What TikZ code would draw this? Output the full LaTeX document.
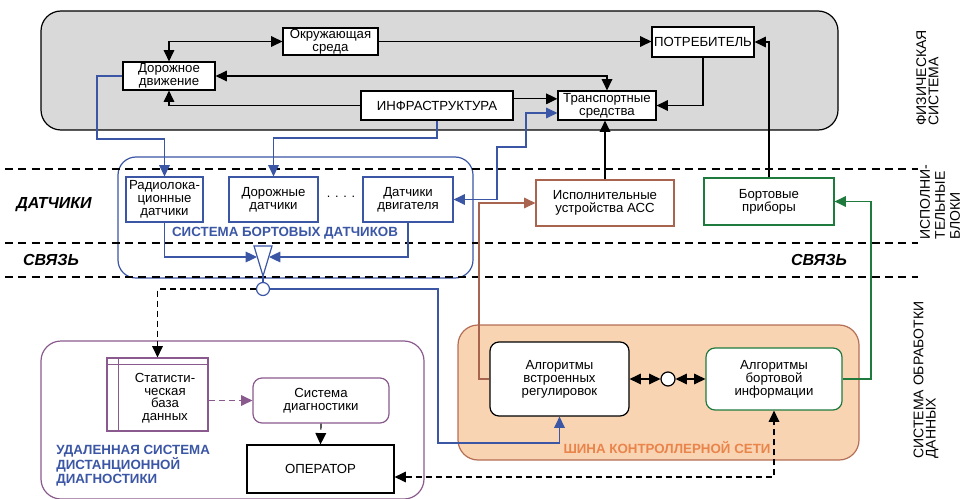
\documentclass[tikz,border=0pt]{standalone}
\usepackage{fontspec}
\setmainfont{Liberation Sans}
\usetikzlibrary{shapes,arrows.meta,calc}
\usetikzlibrary{positioning}

\definecolor{physgray}{HTML}{D9D9D9}
\definecolor{sensblue}{HTML}{3A56A5}
\definecolor{remotepurple}{HTML}{8A5A8E}
\definecolor{accbrown}{HTML}{A8644F}
\definecolor{instgreen}{HTML}{1F7A3D}
\definecolor{canfill}{HTML}{F9D4B3}
\definecolor{canborder}{HTML}{B46E55}
\definecolor{cantext}{HTML}{E9844B}

\newlength{\unitpx}
\setlength{\unitpx}{0.75pt}

\begin{document}
\lineskiplimit=-100pt
\begin{tikzpicture}[x=0.75pt, y=-0.75pt, >={Triangle[length=8.5pt,width=8pt]}]
	\tikzset{wh/.style 2 args={minimum width=#1\unitpx, minimum height=#2\unitpx}};
	\tikzset{block/.style={rectangle, draw, line width=0.9pt, fill=white, align=center, inner sep=0pt, font=\fontsize{9.9}{9.7}\selectfont}};
	\tikzset{algo/.style={block, rounded corners=9\unitpx}};
	\tikzset{area/.style={rectangle, draw, line width=0.9pt, rounded corners=20\unitpx, inner sep=0pt}};
	\tikzset{title/.style={inner sep=0pt, align=left, font=\fontsize{10}{10.9}\selectfont\bfseries}};
	\tikzset{zone/.style={inner sep=0pt, font=\fontsize{12}{13}\selectfont\bfseries\itshape}};
	\tikzset{side/.style={rotate=90, inner sep=0pt, align=left, font=\fontsize{10.5}{9.2}\selectfont}};
	\tikzset{zoneline/.style={dash pattern=on 6pt off 4pt, line width=0.9pt}};
	\tikzset{link/.style={line width=0.9pt}};
	\tikzset{dashlink/.style={link, dash pattern=on 4.5pt off 3pt}};
	\tikzset{hubdot/.style={circle, draw, fill=white, line width=0.9pt, inner sep=0pt}};

	\useasboundingbox (0,0) rectangle (970,499);

	% Place areas
	\node [area, fill=physgray, wh={797}{119}] (phys) at (439.5,70.5) {};
	\node [area, draw=sensblue, rounded corners=18\unitpx, wh={355}{121}] (sensbox) at (295.5,217.5) {};
	\node [area, fill=canfill, draw=canborder, wh={401}{135}] (canbox) at (658.5,392.5) {};
	\node [area, draw=remotepurple, wh={383}{158}] (remote) at (232.5,420) {};

	\foreach \y in {169,243,277}
		\draw [zoneline] (5,\y) -- (918,\y);

	% Place nodes
	\node [block, wh={95}{27}] (env) at (330.5,41.5) {Окружающая\\среда};
	\node [block, wh={92}{28}] (traffic) at (169,76) {Дорожное\\движение};
	\node [block, wh={152}{29}] (infra) at (437,105.5) {ИНФРАСТРУКТУРА};
	\node [block, wh={102}{30}] (consumer) at (703,42) {ПОТРЕБИТЕЛЬ};
	\node [block, wh={98}{29}] (vehicle) at (607,105.5) {Транспортные\\средства};

	\node [block, draw=sensblue, wh={77}{45}] (radar) at (164.5,199.5) {Радиолока-\\ционные\\датчики};
	\node [block, draw=sensblue, wh={89}{45}] (roadsens) at (273.5,199.5) {Дорожные\\датчики};
	\node [block, draw=sensblue, wh={90}{45}] (engine) at (408,199.5) {Датчики\\двигателя};
	\node [font=\fontsize{9.5}{9.6}\selectfont] (dots) at (341,197) {. . . .};
	\node [title, text=sensblue] (senslabel) at (285,233) {СИСТЕМА БОРТОВЫХ ДАТЧИКОВ};

	\node [block, draw=accbrown, wh={138}{46}] (actuator) at (605,203) {Исполнительные\\устройства АСС};
	\node [block, draw=instgreen, wh={130}{47}] (instrument) at (769,201.5) {Бортовые\\приборы};

	\node [algo, wh={139}{74}] (algoreg) at (559.5,379) {Алгоритмы\\встроенных\\регулировок};
	\node [algo, draw=instgreen, wh={136}{62}] (algoinfo) at (774,379) {Алгоритмы\\бортовой\\информации};
	\node [hubdot, minimum size=14\unitpx] (bus) at (668,379) {};
	\node [title, text=cantext] (canlabel) at (667,448) {ШИНА КОНТРОЛЛЕРНОЙ СЕТИ};

	\node [block, draw=remotepurple, wh={101}{73}] (statdb) at (157.5,394.5) {};
	\draw [remotepurple, line width=0.9pt] ([xshift=12\unitpx]statdb.north west) -- ([xshift=12\unitpx]statdb.south west);
	\draw [remotepurple, line width=0.9pt] ([yshift=-7\unitpx]statdb.north west) -- ([yshift=-7\unitpx]statdb.north east);
	\node [inner sep=0pt, align=center, font=\fontsize{9.9}{9.4}\selectfont] (statdbtext) at (165,398) {Статисти-\\ческая\\база\\данных};
	\node [algo, draw=remotepurple, wh={136}{45}] (diag) at (321,400.5) {Система\\диагностики};
	\node [block, wh={147}{48}] (operator) at (320.5,469) {ОПЕРАТОР};
	\node [title, text=sensblue, anchor=west] (remotelabel) at (56,466) {УДАЛЕННАЯ СИСТЕМА\\ДИСТАНЦИОННОЙ\\ДИАГНОСТИКИ};

	\node [zone] (senszone) at (54,205) {ДАТЧИКИ};
	\node [zone] (linkzone) at (51,260) {СВЯЗЬ};
	\node [zone] (linkzonetwo) at (819,260) {СВЯЗЬ};
	\node [side] (physzone) at (927.5,78) {ФИЗИЧЕСКАЯ\\СИСТЕМА};
	\node [side, font=\fontsize{10.5}{11.2}\selectfont] (actzone) at (940,202) {ИСПОЛНИ-\\ТЕЛЬНЫЕ\\БЛОКИ};
	\node [side] (proczone) at (926,380) {СИСТЕМА ОБРАБОТКИ\\ДАННЫХ};

	\node [hubdot, draw=sensblue, minimum size=13\unitpx] (hub) at (263,289) {};
	\draw [sensblue, line width=0.9pt, fill=white] (254,246) -- (272,246) -- (263,276) -- cycle;
	\coordinate (antl) at (257,257);
	\coordinate (antr) at (269,257);
	\coordinate (anttip) at (263,276);

	\coordinate (radarbend) at (97,139);
	\coordinate (roadbend) at (437,138);
	\coordinate (enginebend) at (497,147);
	\coordinate (vehbend) at (526,113);
	\coordinate (hubbend) at (438,443);
	\coordinate (accbend) at (479,203);
	\coordinate (instbend) at (871,201.5);

	% Place draw
	\draw [link, <->] (env.west) -| (traffic.north);
	\draw [link, ->] (env.east) -- (env.east -| consumer.west);
	\draw [link, <->] (traffic.east) -| (vehicle.north);
	\draw [link, ->] (infra.west) -| (traffic.south);
	\draw [link, ->] ([yshift=5pt]infra.east) -- ([yshift=5pt]infra.east -| vehicle.west);
	\draw [link, ->] (consumer.south) |- (vehicle.east);
	\draw [link, ->] (instrument.north) |- (consumer.east);
	\draw [link, ->] (actuator.north) -- (actuator.north |- vehicle.south);

	\draw [link, sensblue, ->] (traffic.west) -| (radarbend) -| (radar.north);
	\draw [link, sensblue, ->] (infra.south) -- (roadbend) -| (roadsens.north);
	\draw [link, sensblue, <->] (engine.east) -| (enginebend) -| (vehbend) -- (vehbend -| vehicle.west);
	\draw [link, sensblue, ->] (radar.south) |- (antl);
	\draw [link, sensblue, ->] (engine.south) |- (antr);
	\draw [link, sensblue] (anttip) -- (hub.north);
	\draw [link, sensblue, ->] (hub.east) -| (hubbend) -| (algoreg.south);
	\draw [dashlink, ->] (hub.west) -| (statdb.north);

	\draw [dashlink, remotepurple, ->] (statdb.east |- diag.west) -- (diag.west);
	\draw [dashlink, ->] (diag.south) -- (operator.north);
	\draw [dashlink, <->] ([yshift=-6pt]operator.east) -| (algoinfo.south);

	\draw [link, <->] (algoreg.east) -- (bus.west);
	\draw [link, <->] (bus.east) -- (algoinfo.west);
	\draw [link, accbrown, ->] (algoreg.west) -| (accbend) -- (actuator.west);
	\draw [link, instgreen, ->] (algoinfo.east) -| (instbend) -- (instrument.east);

\end{tikzpicture}
\end{document}
